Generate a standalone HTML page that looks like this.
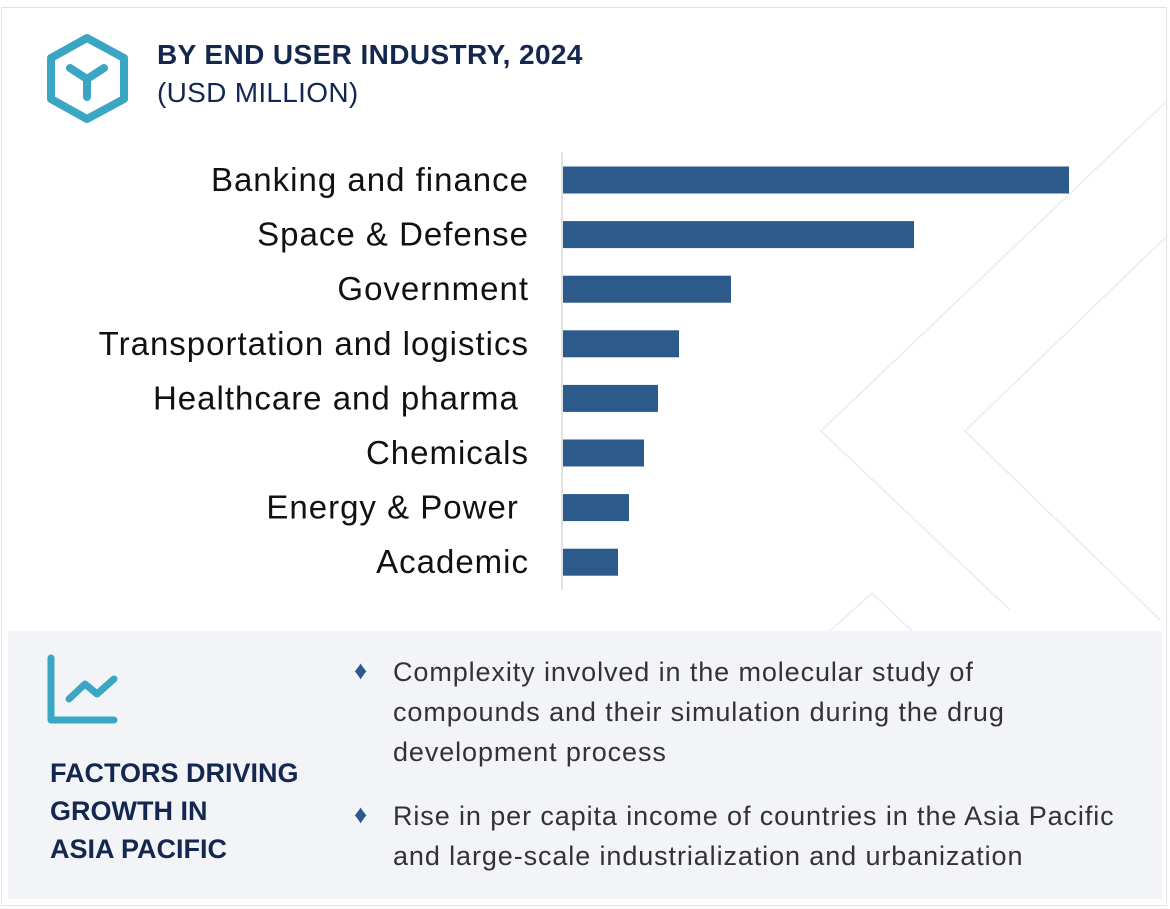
<!DOCTYPE html>
<html><head><meta charset="utf-8"><style>
body{margin:0;width:1170px;height:909px;background:#fff;font-family:"Liberation Sans",Arial,sans-serif;overflow:hidden;position:relative}
.frame{position:absolute;left:1px;top:7px;width:1166px;height:899px;border:1px solid #dfe0e8;box-sizing:border-box}
.t1{position:absolute;left:157px;top:39px;font-size:28px;font-weight:bold;color:#13274f;letter-spacing:0.4px}
.t2{position:absolute;left:157px;top:77px;font-size:28px;color:#13274f;letter-spacing:0.3px}
.panel{position:absolute;left:8px;top:631px;width:1154px;height:268px;background:#f3f4f8}
.ft{position:absolute;left:50px;top:754px;font-size:27px;font-weight:bold;color:#13274f;line-height:38px}
.b{position:absolute;left:393px;font-size:27px;color:#333;line-height:40px;letter-spacing:0.9px}
.d{position:absolute;left:354px;font-size:26px;color:#2c5a8a}
</style></head><body>
<div class="frame"></div>
<svg style="position:absolute;left:0;top:0" width="1170" height="909">
<polyline points="1168,100 821,431 1010,610" fill="none" stroke="#f0f0f0" stroke-width="2"/>
<polyline points="1168,235 965,431 1160,620" fill="none" stroke="#f0f0f0" stroke-width="2"/>
<polyline points="830,631 872,593 912,631" fill="none" stroke="#f0f0f0" stroke-width="2"/>
</svg>
<svg style="position:absolute;left:45px;top:33px" width="85" height="90">
<polygon points="42,5 79,25 79,66 42,86 6,66 6,25" fill="none" stroke="#3aa6c4" stroke-width="8" stroke-linejoin="round"/>
<path d="M25,35 L42,46 L59,35 M42,46 L42,64" fill="none" stroke="#3aa6c4" stroke-width="8" stroke-linecap="round"/>
</svg>
<div class="t1">BY END USER INDUSTRY, 2024</div>
<div class="t2">(USD MILLION)</div>
<svg id="chart" style="position:absolute;left:0;top:0" width="1170" height="630"></svg>
<div class="panel"></div>
<svg style="position:absolute;left:45px;top:652px" width="75" height="75">
<path d="M6,6 L6,68 L69,68" fill="none" stroke="#3aa6c4" stroke-width="7" stroke-linecap="round" stroke-linejoin="round"/>
<path d="M24,47 L40,32 L52,42 L69,27" fill="none" stroke="#3aa6c4" stroke-width="7" stroke-linecap="round" stroke-linejoin="round"/>
</svg>
<div class="ft">FACTORS DRIVING<br>GROWTH IN<br>ASIA PACIFIC</div>
<div class="d" style="top:655px">♦</div>
<div class="b" style="top:652px">Complexity involved in the molecular study of<br>compounds and their simulation during the drug<br>development process</div>
<div class="d" style="top:799px">♦</div>
<div class="b" style="top:796px">Rise in per capita income of countries in the Asia Pacific<br>and large-scale industrialization and urbanization</div>
<script>
const categories=["Banking and finance","Space & Defense","Government","Transportation and logistics","Healthcare and pharma ","Chemicals","Energy & Power ","Academic"];
const values=[506,351,168,116,95,81,66,55];
const svg=document.getElementById('chart');
const NS='http://www.w3.org/2000/svg';
const x0=563, xScale=v=>v*1.0;
const yCenter=i=>180+i*54.6;
const barH=27;
const axis=document.createElementNS(NS,'line');
axis.setAttribute('x1',562);axis.setAttribute('x2',562);axis.setAttribute('y1',152);axis.setAttribute('y2',590);
axis.setAttribute('stroke','#d9d9d9');axis.setAttribute('stroke-width',1.5);


svg.appendChild(axis);
categories.forEach((c,i)=>{
  const r=document.createElementNS(NS,'rect');
  r.setAttribute('x',x0);r.setAttribute('y',yCenter(i)-barH/2);
  r.setAttribute('width',xScale(values[i]));r.setAttribute('height',barH);
  r.setAttribute('fill','#2c5a8a');
  
  
  svg.appendChild(r);
  const t=document.createElementNS(NS,'text');
  t.setAttribute('x',529);t.setAttribute('y',yCenter(i)+11);
  t.setAttribute('text-anchor','end');t.setAttribute('font-size','33');
  t.setAttribute('letter-spacing','1');
  t.setAttribute('fill','#111');t.setAttribute('font-family','Liberation Sans, Arial, sans-serif');
  t.setAttribute('xml:space','preserve');t.style.whiteSpace='pre';
  t.textContent=c;
  
  
  svg.appendChild(t);
});
</script>
</body></html>
